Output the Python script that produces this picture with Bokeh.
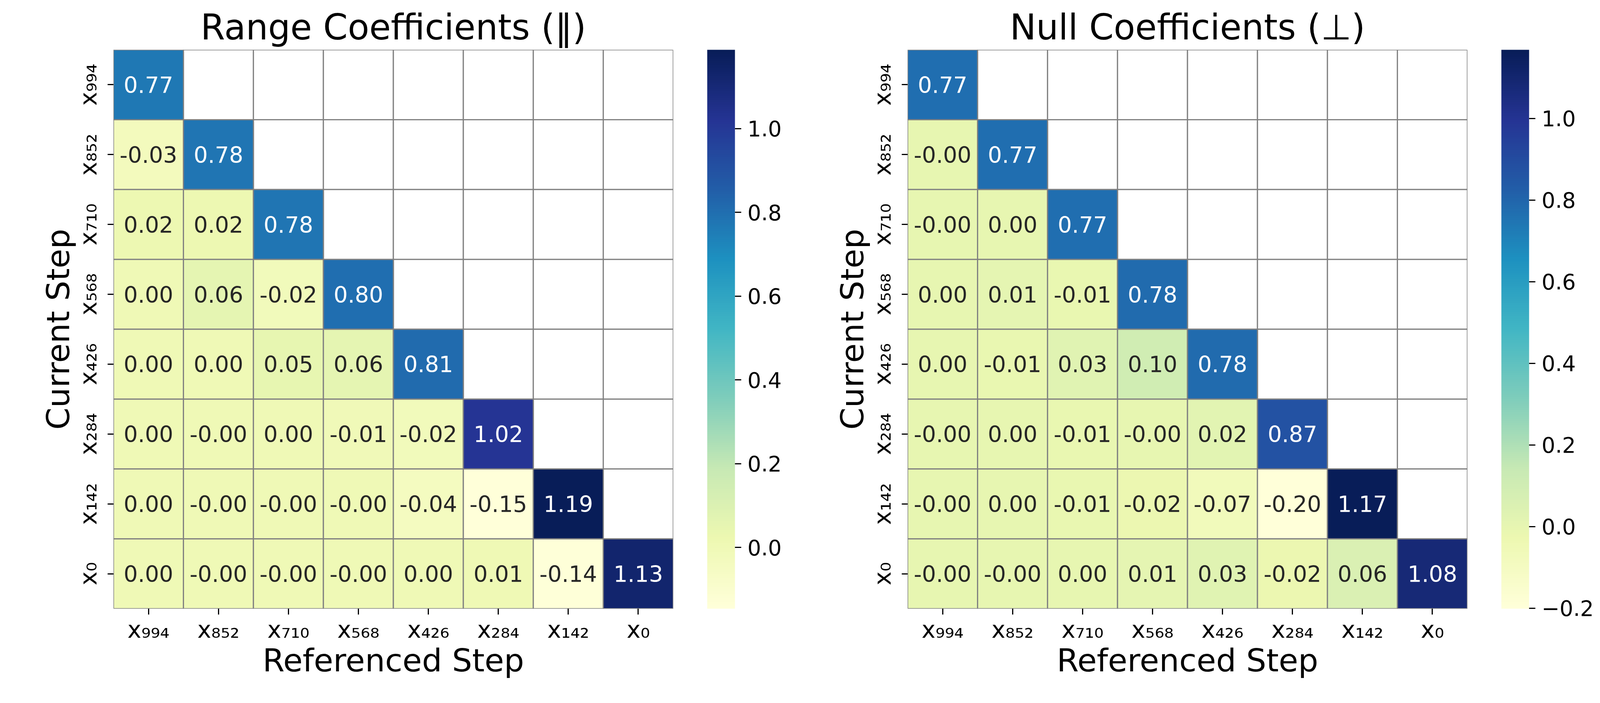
import numpy as np
from bokeh.plotting import figure
from bokeh.models import (ColumnDataSource, LinearColorMapper, ColorBar, FixedTicker,
                          CustomJSTickFormatter)
from bokeh.layouts import row
from bokeh.core.properties import value
from bokeh.embed import file_html
from bokeh.resources import INLINE

# ---------------- data ----------------
steps = ["994", "852", "710", "568", "426", "284", "142", "0"]

# lower-triangular coefficients; rows = current step (x994 ... x0), cols = referenced step
range_rows = [
    [0.77],
    [-0.03, 0.78],
    [0.02, 0.02, 0.78],
    [0.00, 0.06, -0.02, 0.80],
    [0.00, 0.00, 0.05, 0.06, 0.81],
    [0.00, -0.0, 0.00, -0.01, -0.02, 1.02],
    [0.00, -0.0, -0.0, -0.0, -0.04, -0.146, 1.188],
    [0.00, -0.0, -0.0, -0.0, 0.00, 0.01, -0.14, 1.13],
]
null_rows = [
    [0.77],
    [-0.0, 0.77],
    [-0.0, 0.00, 0.77],
    [0.00, 0.01, -0.01, 0.78],
    [0.00, -0.01, 0.03, 0.10, 0.78],
    [-0.0, 0.00, -0.01, -0.0, 0.02, 0.87],
    [-0.0, 0.00, -0.01, -0.02, -0.07, -0.201, 1.168],
    [-0.0, -0.0, 0.00, 0.01, 0.03, -0.02, 0.06, 1.08],
]
titles = ["Range Coefficients (\u2016)", "Null Coefficients (\u22a5)"]
x_title = "Referenced Step"
y_title = "Current Step"
cbar_ticks = [-0.2, 0.0, 0.2, 0.4, 0.6, 0.8, 1.0]

# ---------------- styling ----------------
SUB = str.maketrans("0123456789", "\u2080\u2081\u2082\u2083\u2084\u2085\u2086\u2087\u2088\u2089")
labels = ["x" + s.translate(SUB) for s in steps]

ylgnbu = ["#ffffd9", "#edf8b1", "#c7e9b4", "#7fcdbb", "#41b6c4",
          "#1d91c0", "#225ea8", "#253494", "#081d58"]


def build_palette(stops, n=256):
    rgb = np.array([[int(c[i:i + 2], 16) for i in (1, 3, 5)] for c in stops], float)
    pos = np.linspace(0, 1, len(stops))
    t = np.linspace(0, 1, n)
    out = []
    for k in range(n):
        r, g, b = (np.interp(t[k], pos, rgb[:, ch]) for ch in range(3))
        out.append("#%02x%02x%02x" % (int(round(r)), int(round(g)), int(round(b))))
    return out


PALETTE = build_palette(ylgnbu)
FONT = "DejaVu Sans"
GRID = "#808080"
FRAME_W, FRAME_H = 1433, 1431


def make_panel(title, rows, border_right):
    xs, ys, vals, txt, tcol = [], [], [], [], []
    ex, ey = [], []
    for i, r in enumerate(rows):
        for j in range(len(labels)):
            if j < len(r):
                xs.append(labels[j]); ys.append(labels[i]); vals.append(r[j])
                txt.append(f"{r[j]:.2f}")
                tcol.append("white" if r[j] > 0.5 else "#262626")
            else:
                ex.append(labels[j]); ey.append(labels[i])
    flat = np.array(vals)
    mapper = LinearColorMapper(palette=PALETTE, low=flat.min(), high=flat.max())

    p = figure(x_range=labels, y_range=labels[::-1], frame_width=FRAME_W,
               frame_height=FRAME_H, min_border_left=290, min_border_top=127,
               min_border_bottom=176, min_border_right=border_right,
               output_backend="svg", toolbar_location=None, title=title)
    src = ColumnDataSource(dict(x=xs, y=ys, v=vals, t=txt, c=tcol))
    esrc = ColumnDataSource(dict(x=ex, y=ey))
    p.rect("x", "y", 1, 1, source=esrc, fill_color="white", line_color=GRID, line_width=3)
    p.rect("x", "y", 1, 1, source=src, fill_color={"field": "v", "transform": mapper},
           line_color=GRID, line_width=3)
    p.text("x", "y", text="t", source=src, text_color="c", text_align="center",
           text_baseline="middle", text_font=value(FONT), text_font_size="57px")

    p.title.text_font = FONT
    p.title.text_font_size = "90px"
    p.title.text_font_style = "normal"
    p.title.text_color = "black"
    p.title.align = "center"
    p.title.standoff = 12

    for ax in (p.xaxis[0], p.yaxis[0]):
        ax.axis_line_color = None
        ax.major_tick_out = 15
        ax.major_tick_in = 0
        ax.major_tick_line_width = 3
        ax.major_tick_line_color = "black"
        ax.minor_tick_line_color = None
        ax.major_label_text_font = FONT
        ax.major_label_text_font_size = "60px"
        ax.major_label_text_color = "black"
        ax.axis_label_text_font = FONT
        ax.axis_label_text_font_size = "81px"
        ax.axis_label_text_font_style = "normal"
        ax.axis_label_text_color = "black"
    p.xaxis.axis_label = x_title
    p.yaxis.axis_label = y_title
    p.yaxis.major_label_orientation = "vertical"
    p.xaxis.major_label_standoff = 3
    p.yaxis.major_label_standoff = 15
    p.xaxis.axis_label_standoff = -6
    p.yaxis.axis_label_standoff = -8
    p.xgrid.visible = False
    p.ygrid.visible = False
    p.outline_line_color = None

    cb = ColorBar(color_mapper=mapper, width=71, height=FRAME_H, padding=0, margin=0,
                  location=(87, 0), bar_line_color=None,
                  ticker=FixedTicker(ticks=cbar_ticks),
                  formatter=CustomJSTickFormatter(
                      code="return (tick < -1e-9 ? '\u2212' : '') + Math.abs(tick).toFixed(1);"),
                  major_tick_out=16, major_tick_in=0, major_tick_line_color="black",
                  major_tick_line_width=3, minor_tick_line_color=None,
                  label_standoff=16, major_label_text_font=FONT,
                  major_label_text_font_size="55px", major_label_text_color="black",
                  background_fill_color=None)
    p.add_layout(cb, "right")
    return p


pl = make_panel(titles[0], range_rows, 310)
pr = make_panel(titles[1], null_rows, 331)
layout = row(pl, pr)
open("out.html", "w").write(file_html(layout, INLINE))
